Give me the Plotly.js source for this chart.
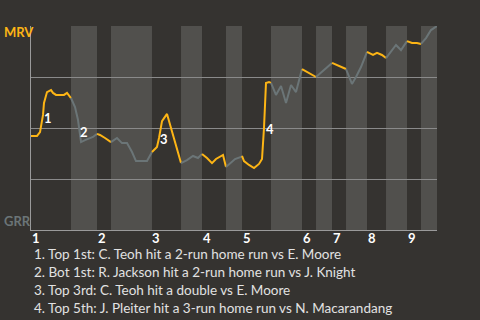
<!DOCTYPE html>
<html><head><meta charset="utf-8">
<script src="https://cdn.plot.ly/plotly-3.0.1.min.js"></script>
<style>html,body{margin:0;padding:0;background:#353330;}#chart{width:480px;height:320px;}</style>
</head><body><div id="chart"></div>
<script>
// Game progress (% of plays) and MRV win probability
const progress = [0, 1.48, 2.22, 2.96, 3.20, 3.69, 3.94, 4.93, 5.42, 6.16, 7.14, 8.13, 8.87, 9.36, 9.85,
  10.84, 11.58, 12.07, 12.32, 13.30, 15.27, 16.26,
  17.00, 18.23, 19.46, 19.70,
  21.18, 22.41, 23.65, 24.88, 25.86, 28.57, 29.80,
  31.03, 31.53, 32.27, 33.50, 35.22, 36.95,
  38.42, 39.90, 41.13, 42.12,
  43.35, 44.58, 45.57, 47.29, 48.03,
  49.01, 50.25, 51.72, 51.97,
  52.46, 53.69, 54.93, 56.16, 56.90, 57.39, 57.64, 57.88, 58.62, 59.11,
  60.34, 61.58, 62.81, 64.04, 65.27, 66.75,
  68.47, 70.20,
  72.17, 73.40, 74.14,
  75.37, 76.60, 77.59,
  78.33, 79.06, 80.05, 81.28, 82.76,
  84.24, 85.22, 86.45, 87.44,
  88.67, 89.90, 91.13, 92.61,
  93.84, 95.07, 96.06,
  97.29, 98.52, 100];
const winProb = [0.461, 0.461, 0.480, 0.564, 0.623, 0.667, 0.676, 0.686, 0.672, 0.662, 0.662, 0.662, 0.672, 0.657, 0.647,
  0.603, 0.539, 0.475, 0.431, 0.441, 0.456, 0.471,
  0.466, 0.451, 0.431, 0.431,
  0.451, 0.426, 0.426, 0.382, 0.338, 0.338, 0.382,
  0.407, 0.451, 0.534, 0.569, 0.451, 0.328,
  0.343, 0.363, 0.353, 0.373,
  0.353, 0.328, 0.348, 0.368, 0.309,
  0.328, 0.348, 0.358, 0.363,
  0.338, 0.319, 0.304, 0.324, 0.348, 0.500, 0.588, 0.721, 0.725, 0.721,
  0.662, 0.706, 0.623, 0.711, 0.676, 0.789,
  0.770, 0.750,
  0.784, 0.809, 0.819,
  0.809, 0.799, 0.789,
  0.750, 0.716, 0.750, 0.799, 0.873,
  0.858, 0.868, 0.858, 0.843,
  0.873, 0.907, 0.882, 0.926,
  0.917, 0.917, 0.912,
  0.941, 0.980, 1.000];
// Start of each half-inning (top 1st, bot 1st, top 2nd, ...)
const halfStarts = [0, 9.85, 16.26, 19.70, 29.80, 36.95, 42.12, 48.03, 51.97, 59.11, 66.75, 70.20, 74.14, 77.59, 82.76, 87.44, 92.61, 96.06];
const gameEnd = 100;
const inningLabels = ['1', '2', '3', '4', '5', '6', '7', '8', '9'];
const teams = ['MRV', 'GRR'];
const eventNums = ['1', '2', '3', '4'];
const eventX = [4.19, 13.05, 32.8, 58.9];
const eventY = [0.549, 0.48, 0.446, 0.495];
const eventTexts = [
  '1. Top 1st: C. Teoh hit a 2-run home run vs E. Moore',
  '2. Bot 1st: R. Jackson hit a 2-run home run vs J. Knight',
  '3. Top 3rd: C. Teoh hit a double vs E. Moore',
  '4. Top 5th: J. Pleiter hit a 3-run home run vs N. Macarandang'
];

const ORANGE = '#fdb515', GRAY = '#6b7577';
const traces = [];
const shapes = [];
for (let h = 0; h < halfStarts.length; h++) {
  const s = halfStarts[h], e = h < halfStarts.length - 1 ? halfStarts[h + 1] : gameEnd;
  const xs = [], ys = [];
  for (let i = 0; i < progress.length; i++) {
    if (progress[i] >= s && progress[i] <= e) {
      if (xs.length === 0 && i > 0 && progress[i] > s) { xs.push(progress[i - 1]); ys.push(winProb[i - 1]); }
      xs.push(progress[i]); ys.push(winProb[i]);
    }
  }
  traces.push({x: xs, y: ys, type: 'scatter', mode: 'lines', hoverinfo: 'skip',
    line: {color: h % 2 === 0 ? ORANGE : GRAY, width: 2}, showlegend: false});
  if (h % 2 === 1) {
    shapes.push({type: 'rect', xref: 'x', yref: 'paper', x0: s, x1: e, y0: 0, y1: 1,
      fillcolor: '#51504d', line: {width: 0}, layer: 'below'});
  }
}
const FONT = 'Lato, "Open Sans", sans-serif';
const annotations = [];
annotations.push({xref: 'paper', yref: 'paper', x: -0.072, y: 0.97, xanchor: 'left', yanchor: 'middle', showarrow: false,
  text: '<b>' + teams[0] + '</b>', font: {color: ORANGE, size: 13, family: FONT}});
annotations.push({xref: 'paper', yref: 'paper', x: -0.072, y: 0.045, xanchor: 'left', yanchor: 'middle', showarrow: false,
  text: '<b>' + teams[1] + '</b>', font: {color: GRAY, size: 13, family: FONT}});
for (let k = 0; k < eventNums.length; k++) {
  annotations.push({xref: 'x', yref: 'y', x: eventX[k], y: eventY[k], showarrow: false,
    text: '<b>' + eventNums[k] + '</b>', font: {color: '#ffffff', size: 13, family: FONT}});
}
// Inning labels, left-aligned at the start of each top half
const topStarts = halfStarts.filter((v, i) => i % 2 === 0);
for (let k = 0; k < inningLabels.length; k++) {
  annotations.push({xref: 'x', yref: 'paper', x: topStarts[k], y: -0.04, xanchor: 'left', yanchor: 'middle',
    xshift: -1.5, showarrow: false, text: '<b>' + inningLabels[k] + '</b>', font: {color: '#ffffff', size: 13, family: FONT}});
}
for (let k = 0; k < eventTexts.length; k++) {
  annotations.push({xref: 'paper', yref: 'paper', x: 0.003, y: -0.118 - 0.088 * k, xanchor: 'left', yanchor: 'middle',
    showarrow: false, text: eventTexts[k], font: {color: '#e2e2e2', size: 13.5, family: FONT}});
}
const layout = {
  width: 480, height: 320,
  margin: {l: 31, r: 43, t: 26, b: 90},
  paper_bgcolor: '#353330', plot_bgcolor: '#353330',
  font: {family: FONT, color: '#ffffff'},
  xaxis: {range: [0, gameEnd], showgrid: false, zeroline: false, showline: true, linecolor: '#9a9a9a', linewidth: 1,
    showticklabels: false, ticks: '', fixedrange: true},
  yaxis: {range: [0, 1], showgrid: true, gridcolor: '#8a8a8a', gridwidth: 1, dtick: 0.25, tick0: 0, zeroline: false,
    showline: true, linecolor: '#9a9a9a', linewidth: 1, showticklabels: false, ticks: '', fixedrange: true},
  shapes: shapes,
  annotations: annotations
};
Plotly.newPlot('chart', traces, layout, {displayModeBar: false, staticPlot: true});
</script></body></html>
